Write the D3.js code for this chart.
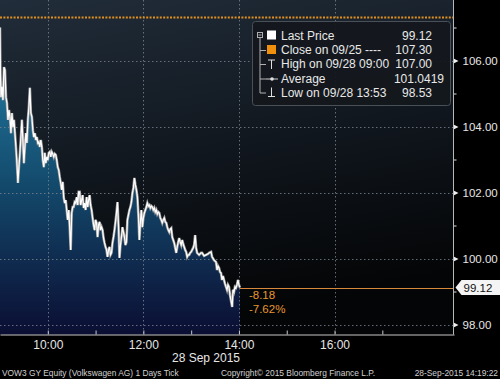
<!DOCTYPE html>
<html>
<head>
<meta charset="utf-8">
<script src="https://cdn.jsdelivr.net/npm/d3@7"></script>
<style>
  html, body { margin: 0; padding: 0; background: #000; }
  svg { display: block; font-family: "Liberation Sans", Arial, sans-serif; }
</style>
</head>
<body>
<svg id="chart" width="500" height="379"></svg>
<script>
// minutes after 09:00 on 28 Sep 2015
const tickMinutes = [
  0, 0.6, 1.25, 2.5, 3.75, 5, 6.25, 7.5, 8.75, 10,
  11.25, 12.5, 13.75, 15, 16.25, 17.5, 18.75, 20, 21.25, 22.5,
  23.75, 25, 26.25, 27.5, 28.75, 30, 31.25, 32.5, 33.75, 35,
  36.25, 37.5, 38.75, 40, 41.25, 42.5, 43.75, 45, 46.25, 47.5,
  48.75, 50, 51.25, 52.5, 53.75, 55, 56.25, 57.5, 58.75, 60,
  61.25, 62.5, 63.75, 65, 66.25, 67.5, 68.75, 70, 71.25, 72.5,
  73.75, 75, 76.25, 77.5, 78.75, 80, 81.25, 82.5, 83.75, 85,
  86.25, 87.5, 88.75, 90, 91.25, 92.5, 93.75, 95, 96.25, 97.5,
  98.75, 100, 101.25, 102.5, 103.75, 105, 106.25, 107.5, 108.75, 110,
  111.25, 112.5, 113.75, 115, 116.25, 117.5, 118.75, 120, 121.25, 122.5,
  123.75, 125, 126.25, 127.5, 128.75, 130, 131.25, 132.5, 133.75, 135,
  136.25, 137.5, 138.75, 140, 141.25, 142.5, 143.75, 145, 146.25, 147.5,
  148.75, 150, 151.25, 152.5, 153.75, 155, 156.25, 157.5, 158.75, 160,
  161.25, 162.5, 163.75, 165, 166.25, 167.5, 168.75, 170, 171.25, 172.5,
  173.75, 175, 176.25, 177.5, 178.75, 180, 181.25, 182.5, 183.75, 185,
  186.25, 187.5, 188.75, 190, 191.25, 192.5, 193.75, 195, 196.25, 197.5,
  198.75, 200, 201.25, 202.5, 203.75, 205, 206.25, 207.5, 208.75, 210,
  211.25, 212.5, 213.75, 215, 216.25, 217.5, 218.75, 220, 221.25, 222.5,
  223.75, 225, 226.25, 227.5, 228.75, 230, 231.25, 232.5, 233.75, 235,
  236.25, 237.5, 238.75, 240, 241.25, 242.5, 243.75, 245, 246.25, 247.5,
  248.75, 250, 252.5, 253.75, 256.25, 258.75, 261.25, 262.5, 265, 266.25,
  268.75, 271.25, 272.5, 273.75, 275, 276.25, 277.5, 278.75, 280, 281.25,
  282.5, 283.75, 285, 286.25, 287.5, 288.75, 291.5, 292.5, 293.75, 295,
  296.25, 297.5, 298.75, 300, 301.25
];
const tickPrices = [
  107.00, 105.56, 104.89, 105.20, 104.80, 105.80, 105.71, 104.89, 104.71, 104.20,
  104.50, 104.29, 103.80, 104.41, 103.98, 104.20, 103.80, 103.38, 102.89, 102.29,
  102.77, 103.20, 103.68, 104.20, 103.59, 102.89, 103.38, 103.80, 103.50, 104.20,
  104.59, 105.17, 104.41, 104.29, 103.89, 103.68, 103.80, 103.59, 103.68, 103.50,
  103.53, 103.38, 103.59, 103.38, 102.98, 102.77, 103.20, 102.89, 103.08, 102.98,
  103.20, 103.23, 103.08, 103.23, 103.17, 103.08, 103.17, 103.14, 102.98, 102.77,
  102.68, 102.47, 102.29, 102.08, 102.32, 101.86, 101.68, 101.77, 101.47, 101.17,
  101.47, 100.95, 100.26, 101.38, 101.56, 101.56, 101.71, 101.68, 101.86, 101.62,
  102.02, 102.02, 101.62, 101.77, 101.92, 101.53, 101.68, 101.47, 101.86, 101.56,
  101.77, 101.92, 101.62, 101.47, 101.23, 101.02, 100.86, 101.17, 101.08, 100.65,
  101.02, 101.11, 100.86, 100.95, 100.86, 100.62, 100.47, 100.35, 100.26, 100.05,
  100.26, 100.35, 100.11, 100.17, 100.47, 100.65, 100.86, 101.11, 101.38, 101.71,
  101.02, 100.02, 100.41, 100.65, 100.95, 100.80, 100.65, 100.41, 100.50, 101.17,
  101.32, 101.47, 101.56, 101.71, 101.98, 102.14, 102.44, 102.23, 102.08, 101.86,
  101.32, 100.56, 101.11, 101.47, 100.95, 101.23, 101.38, 101.47, 101.56, 101.68,
  101.59, 101.62, 101.53, 101.59, 101.56, 101.47, 101.53, 101.41, 101.47, 101.35,
  101.41, 101.38, 101.23, 101.17, 101.08, 101.17, 101.23, 101.11, 101.08, 100.95,
  100.86, 100.80, 100.89, 100.92, 100.65, 100.56, 100.47, 100.32, 100.17, 100.35,
  100.50, 100.62, 100.50, 100.41, 100.56, 100.44, 100.35, 100.26, 100.20, 100.05,
  100.11, 100.11, 100.17, 100.20, 100.26, 100.32, 100.41, 100.71, 100.32, 100.17,
  100.14, 100.11, 100.17, 100.17, 100.08, 100.11, 100.14, 100.17, 100.20, 100.05,
  99.95, 99.89, 99.65, 99.77, 99.71, 99.59, 99.56, 99.35, 99.47, 99.35,
  99.23, 99.14, 99.05, 99.20, 99.14, 98.89, 98.53, 99.05, 98.98, 99.14,
  99.11, 99.20, 99.35, 99.20, 99.12
];

const prevClose = 107.30;
const lastPrice = 99.12;
const netChange = "-8.18";
const pctChange = "-7.62%";
const legendLabels = ["Last Price", "Close on 09/25 ----", "High on 09/28 09:00", "Average", "Low on 09/28 13:53"];
const legendValues = ["99.12", "107.30", "107.00", "101.0419", "98.53"];
const majorPrices = [98, 100, 102, 104, 106];
const minorPrices = [99, 101, 103, 105, 107];
const dayLabel = "28 Sep 2015";
const footerLeft = "VOW3 GY Equity (Volkswagen AG) 1 Days  Tick";
const footerMid = "Copyright\u00a9 2015 Bloomberg Finance L.P.";
const footerRight = "28-Sep-2015 14:19:22";

const svg = d3.select("#chart");
const plotW = 453.5, plotB = 334.5;

const dayStart = new Date(2015, 8, 28, 9, 0);
const toDate = m => new Date(dayStart.getTime() + m * 60000);
const data = tickMinutes.map((m, i) => ({t: toDate(m), p: tickPrices[i]}));

const x = d3.scaleTime()
    .domain([dayStart, new Date(2015, 8, 28, 18, 30)])
    .range([0, 454]);
const y = d3.scaleLinear()
    .domain([98, 106])
    .range([324.5, 60.5]);

const defs = svg.append("defs");
const bgGrad = defs.append("linearGradient").attr("id", "bg")
    .attr("x1", 0).attr("y1", 0).attr("x2", 0.25).attr("y2", 1);
bgGrad.append("stop").attr("offset", "0%").attr("stop-color", "#212d3a");
bgGrad.append("stop").attr("offset", "55%").attr("stop-color", "#10161d");
bgGrad.append("stop").attr("offset", "100%").attr("stop-color", "#040506");

const areaGrad = defs.append("linearGradient").attr("id", "areaFill")
    .attr("gradientUnits", "userSpaceOnUse")
    .attr("x1", 0).attr("y1", 60).attr("x2", 0).attr("y2", plotB);
areaGrad.append("stop").attr("offset", "0%").attr("stop-color", "#23789f");
areaGrad.append("stop").attr("offset", "45%").attr("stop-color", "#134a6c");
areaGrad.append("stop").attr("offset", "100%").attr("stop-color", "#0b0e33");

svg.append("rect").attr("width", 500).attr("height", 379).attr("fill", "#000");
svg.append("rect").attr("width", plotW).attr("height", plotB).attr("fill", "url(#bg)");

// price area
svg.append("path")
    .datum(data)
    .attr("d", d3.area().x(d => x(d.t)).y0(plotB).y1(d => y(d.p)))
    .attr("fill", "url(#areaFill)");

// grid
const grid = svg.append("g").attr("stroke", "#7a8490").attr("stroke-width", 1)
    .attr("stroke-dasharray", "1.5,2.5").attr("opacity", 0.8);
grid.selectAll(".hg").data(majorPrices).join("line")
    .attr("x1", 0).attr("x2", plotW)
    .attr("y1", d => Math.round(y(d)) + 0.5).attr("y2", d => Math.round(y(d)) + 0.5);
grid.selectAll(".vg").data([10, 12, 14, 16]).join("line")
    .attr("x1", d => Math.round(x(new Date(2015, 8, 28, d))) + 0.5)
    .attr("x2", d => Math.round(x(new Date(2015, 8, 28, d))) + 0.5)
    .attr("y1", 0).attr("y2", plotB);

// previous close
svg.append("line")
    .attr("x1", 0).attr("x2", plotW)
    .attr("y1", y(prevClose)).attr("y2", y(prevClose))
    .attr("stroke", "#e0901e").attr("stroke-width", 2)
    .attr("stroke-dasharray", "2,1.4");

// price line
const line = d3.line().x(d => x(d.t)).y(d => y(d.p));
svg.append("path").datum(data).attr("d", line)
    .attr("fill", "none").attr("stroke", "#9a9a9a").attr("stroke-width", 2.6);
svg.append("path").datum(data).attr("d", line)
    .attr("fill", "none").attr("stroke", "#ffffff").attr("stroke-width", 1.2);

// last price line
const lastX = x(data[data.length - 1].t);
svg.append("line")
    .attr("x1", lastX).attr("x2", plotW)
    .attr("y1", Math.round(y(lastPrice)) + 0.5).attr("y2", Math.round(y(lastPrice)) + 0.5)
    .attr("stroke", "#d88a3a").attr("stroke-width", 1);

svg.append("text").attr("x", lastX + 9).attr("y", y(lastPrice) + 11)
    .attr("fill", "#e8962e").attr("font-size", 11.5).text(netChange);
svg.append("text").attr("x", lastX + 9).attr("y", y(lastPrice) + 25)
    .attr("fill", "#e8962e").attr("font-size", 11.5).text(pctChange);

// right axis
const yAxis = svg.append("g")
    .attr("transform", `translate(${plotW},0)`)
    .call(d3.axisRight(y).tickValues(majorPrices).tickSize(0).tickPadding(9)
        .tickFormat(d3.format(".2f")));
yAxis.select(".domain").remove();
yAxis.selectAll("text").attr("fill", "#e6e6e6").attr("font-size", 11.5)
    .attr("font-family", "Liberation Sans, Arial, sans-serif");
yAxis.selectAll(".tick").append("path")
    .attr("d", "M0,-2.5L5,0L0,2.5Z").attr("fill", "#f0f0f0");

const yMinor = svg.append("g")
    .attr("transform", `translate(${plotW},0)`)
    .call(d3.axisRight(y).tickValues(minorPrices).tickSize(3).tickFormat(""));
yMinor.select(".domain").remove();
yMinor.selectAll("line").attr("stroke", "#ddd");

svg.append("line").attr("x1", plotW).attr("x2", plotW).attr("y1", 0).attr("y2", plotB)
    .attr("stroke", "#b8b8b8").attr("stroke-width", 1);

// last price tag
const ly = y(lastPrice);
svg.append("path")
    .attr("d", `M${plotW + 2},${ly}L${plotW + 8},${ly - 7.5}L500,${ly - 7.5}L500,${ly + 7.5}L${plotW + 8},${ly + 7.5}Z`)
    .attr("fill", "#f4f4f4");
svg.append("text").attr("x", plotW + 10).attr("y", ly + 4.5)
    .attr("fill", "#111").attr("font-size", 11.5).text(lastPrice.toFixed(2));

// bottom axis
const xAxis = svg.append("g")
    .attr("transform", `translate(0,${plotB})`)
    .call(d3.axisBottom(x)
        .ticks(d3.timeHour.every(1))
        .tickSizeInner(-4).tickSizeOuter(0).tickPadding(6)
        .tickFormat(d => d.getHours() % 2 === 0 && d.getHours() < 18 ? d3.timeFormat("%H:%M")(d) : ""));
xAxis.select(".domain").attr("stroke", "#c8c8c8");
xAxis.selectAll("line").attr("stroke", "#c8c8c8")
    .attr("display", d => (d.getHours() < 10 || d.getHours() > 17) ? "none" : null);
xAxis.selectAll("text").attr("fill", "#e6e6e6").attr("font-size", 12)
    .attr("font-family", "Liberation Sans, Arial, sans-serif");

svg.append("text").attr("x", 206).attr("y", 362).attr("text-anchor", "middle")
    .attr("fill", "#e6e6e6").attr("font-size", 12).text(dayLabel);

const foot = svg.append("g").attr("fill", "#d0d0d0").attr("font-size", 8.4);
foot.append("text").attr("x", 2).attr("y", 376).text(footerLeft);
foot.append("text").attr("x", 221).attr("y", 376).text(footerMid);
foot.append("text").attr("x", 498).attr("y", 376).attr("text-anchor", "end").text(footerRight);

// legend
const lg = svg.append("g");
lg.append("rect").attr("x", 252.5).attr("y", 21.5).attr("width", 198).attr("height", 84)
    .attr("rx", 3).attr("fill", "#14181d").attr("fill-opacity", 0.95)
    .attr("stroke", "#4a5058");
const rowY = [40, 54, 68, 82.5, 96.5];
lg.selectAll(".lbl").data(legendLabels).join("text")
    .attr("x", 281).attr("y", (d, i) => rowY[i])
    .attr("fill", "#e8e8e8").attr("font-size", 12).text(d => d);
lg.selectAll(".val").data(legendValues).join("text")
    .attr("x", (d, i) => i === 3 ? 444 : 432).attr("y", (d, i) => rowY[i])
    .attr("text-anchor", "end")
    .attr("fill", "#e8e8e8").attr("font-size", 12).text(d => d);

const ic = lg.append("g").attr("stroke", "#b0b0b0").attr("fill", "none").attr("stroke-width", 1);
ic.append("rect").attr("x", 257.5).attr("y", 32.5).attr("width", 5).attr("height", 5);
ic.append("line").attr("x1", 258.5).attr("x2", 261.5).attr("y1", 35).attr("y2", 35);
ic.append("line").attr("x1", 260).attr("x2", 260).attr("y1", 38).attr("y2", rowY[4] - 3.5);
[1, 2, 3, 4].forEach(i => {
  ic.append("line").attr("x1", 260).attr("x2", 266).attr("y1", rowY[i] - 3.5).attr("y2", rowY[i] - 3.5);
});
lg.append("rect").attr("x", 267).attr("y", 30.5).attr("width", 9).attr("height", 9).attr("fill", "#ffffff");
lg.append("rect").attr("x", 267).attr("y", 45).attr("width", 9).attr("height", 9).attr("fill", "#f0900c");
ic.append("path").attr("d", `M268,${rowY[2] - 8}H275M271.5,${rowY[2] - 8}V${rowY[2] + 1}`).attr("stroke", "#e0e0e0");
ic.append("path").attr("d", `M266,${rowY[3] - 3.5}H278`).attr("stroke", "#d0d0d0");
lg.append("circle").attr("cx", 272).attr("cy", rowY[3] - 3.5).attr("r", 1.8).attr("fill", "#e0e0e0");
ic.append("path").attr("d", `M268,${rowY[4]}H275M271.5,${rowY[4]}V${rowY[4] - 9}`).attr("stroke", "#e0e0e0");
</script>
</body>
</html>
